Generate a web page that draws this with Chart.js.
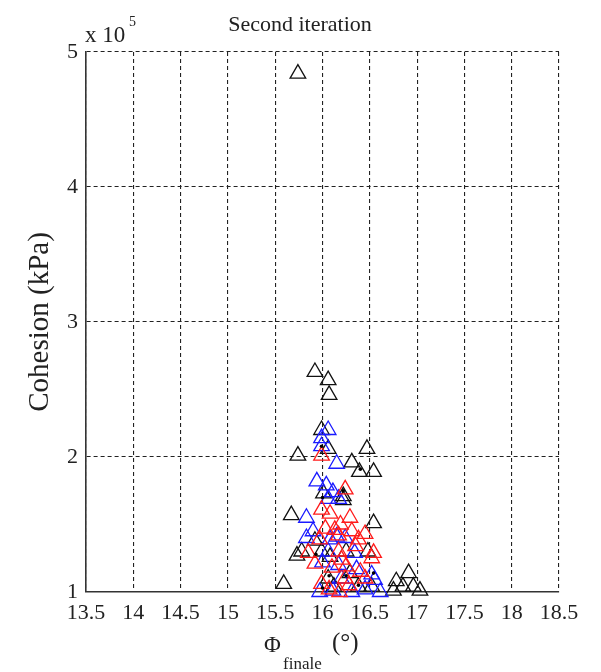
<!DOCTYPE html>
<html lang="en">
<head>
    <meta charset="UTF-8">
    <title>Second iteration</title>
    <style>
        * { margin: 0; padding: 0; box-sizing: border-box; }
        body { background: #fff; }
        .wrap { width: 601px; height: 672px; position: relative; }
    </style>
</head>
<body>
    <div class="wrap">
        <canvas id="chart" width="601" height="672"></canvas>
    </div>

    <script src="https://cdn.jsdelivr.net/npm/chart.js"></script>
    <script>
        // data, cohesion in units of 10^5 kPa
        const blackPhi = [15.74, 15.92, 16.06, 16.07, 16.47, 15.74, 16.31, 16.39, 16.54, 15.99, 16.06, 16.01, 16.22, 16.22,
            15.67, 16.54, 15.78, 15.99, 16.25, 16.48, 15.73, 16.08, 16.29, 16.06, 16.38, 16.52, 15.59,
            16.91, 16.78, 16.85, 16.96, 17.03, 16.75, 16.12, 15.92];
        const blackCoh = [4.84, 2.63, 2.57, 2.46, 2.06, 2.01, 1.96, 1.89, 1.89, 2.20, 2.06, 1.73, 1.71, 1.68,
            1.57, 1.51, 1.30, 1.30, 1.30, 1.30, 1.27, 1.26, 1.14, 1.10, 1.04, 1.04, 1.06,
            1.14, 1.08, 1.04, 1.04, 1.01, 1.01, 1.04, 1.38];

        const redPhi = [15.99, 16.24, 15.99, 16.29, 16.03, 16.13, 16.31, 16.45, 15.97, 16.38, 15.85, 16.52, 15.92,
            16.10, 16.40, 15.99, 16.18, 16.45, 16.54, 16.17, 16.35, 16.20, 16.28, 16.08, 16.19, 16.17,
            16.25, 16.07, 16.24];
        const redCoh = [2.01, 1.76, 1.61, 1.55, 1.47, 1.46, 1.45, 1.43, 1.39, 1.39, 1.29, 1.25, 1.21,
            1.18, 1.15, 1.06, 1.00, 1.10, 1.29, 1.42, 1.34, 1.24, 1.05, 1.58, 1.50, 1.30,
            1.19, 1.02, 1.10];

        const bluePhi = [16.06, 15.99, 15.99, 16.15, 15.94, 16.04, 16.11, 16.17, 16.06, 15.83, 15.83, 16.08, 16.24,
            16.06, 16.34, 16.17, 16.52, 16.20, 15.97, 16.11, 16.31, 16.61, 16.55, 16.15, 16.00, 16.36,
            16.45, 15.90];
        const blueCoh = [2.20, 2.14, 2.08, 1.95, 1.82, 1.79, 1.74, 1.69, 1.69, 1.55, 1.40, 1.39, 1.40,
            1.30, 1.29, 1.20, 1.13, 1.10, 1.00, 1.01, 1.00, 1.00, 1.09, 1.41, 1.22, 1.17,
            1.02, 1.45];

        // small filled dots seen inside some triangles
        const dotPhi = [16.40, 16.22, 15.99, 16.00, 15.93, 16.07, 16.25, 16.54, 16.38, 16.00];
        const dotCoh = [1.91, 1.75, 2.08, 1.70, 1.28, 1.12, 1.12, 1.14, 1.05, 1.03];

        const toPoints = (xs, ys) => xs.map((x, i) => ({ x: x, y: ys[i] }));

        const serif = "'Liberation Serif', 'DejaVu Serif', serif";

        function series(label, xs, ys, color) {
            return {
                label: label,
                data: toPoints(xs, ys),
                pointStyle: 'triangle',
                pointRadius: 9,
                pointBorderWidth: 1.3,
                borderColor: color,
                backgroundColor: 'rgba(0,0,0,0)',
                clip: false
            };
        }

        // title, exponent and axis labels
        const labelsPlugin = {
            id: 'labels',
            afterDraw(chart) {
                const c = chart.ctx;
                c.save();
                c.fillStyle = '#222';
                c.textBaseline = 'alphabetic';

                c.font = '22px ' + serif;
                c.textAlign = 'center';
                c.fillText('Second iteration', 300, 31);

                c.textAlign = 'left';
                c.font = '23px ' + serif;
                c.fillText('x 10', 85, 42);
                c.font = '14px ' + serif;
                c.fillText('5', 129, 26);

                c.font = '23px ' + serif;
                c.fillText('\u03A6', 264, 652);
                c.font = '17px ' + serif;
                c.fillText('finale', 283, 669);
                c.font = '25px ' + serif;
                c.fillText('(\u00B0)', 332, 650);

                c.translate(48, 322);
                c.rotate(-Math.PI / 2);
                c.textAlign = 'center';
                c.font = '29px ' + serif;
                c.fillText('Cohesion (kPa)', 0, 0);
                c.restore();
            }
        };

        const grid = {
            color: '#222',
            lineWidth: 1.1,
            drawTicks: false
        };

        const tickText = v => String(Math.round(v * 10) / 10);

        new Chart(document.getElementById('chart').getContext('2d'), {
            type: 'scatter',
            data: {
                datasets: [
                    {
                        label: 'dots',
                        data: toPoints(dotPhi, dotCoh),
                        pointRadius: 1.8,
                        pointBorderWidth: 0,
                        backgroundColor: '#000',
                        clip: false
                    },
                    series('red', redPhi, redCoh, '#ff1a1a'),
                    series('blue', bluePhi, blueCoh, '#1a1aff'),
                    series('black', blackPhi, blackCoh, '#111')
                ]
            },
            options: {
                responsive: false,
                animation: false,
                layout: { padding: { left: 0, right: 42, top: 52, bottom: 0 } },
                plugins: {
                    legend: { display: false },
                    title: { display: false },
                    tooltip: { enabled: false }
                },
                scales: {
                    x: {
                        min: 13.5,
                        max: 18.5,
                        afterFit: s => { s.height = 80; },
                        ticks: {
                            stepSize: 0.5,
                            padding: 8,
                            color: '#222',
                            callback: tickText,
                            font: { family: serif, size: 22 }
                        },
                        grid: grid,
                        border: { display: true, color: '#333', width: 1.6, dash: [4, 3] }
                    },
                    y: {
                        min: 1,
                        max: 5,
                        afterFit: s => { s.width = 86; },
                        ticks: {
                            stepSize: 1,
                            padding: 8,
                            color: '#222',
                            callback: tickText,
                            font: { family: serif, size: 22 }
                        },
                        grid: grid,
                        border: { display: true, color: '#333', width: 1.6, dash: [4, 3] }
                    }
                }
            },
            plugins: [labelsPlugin]
        });
    </script>
</body>
</html>
